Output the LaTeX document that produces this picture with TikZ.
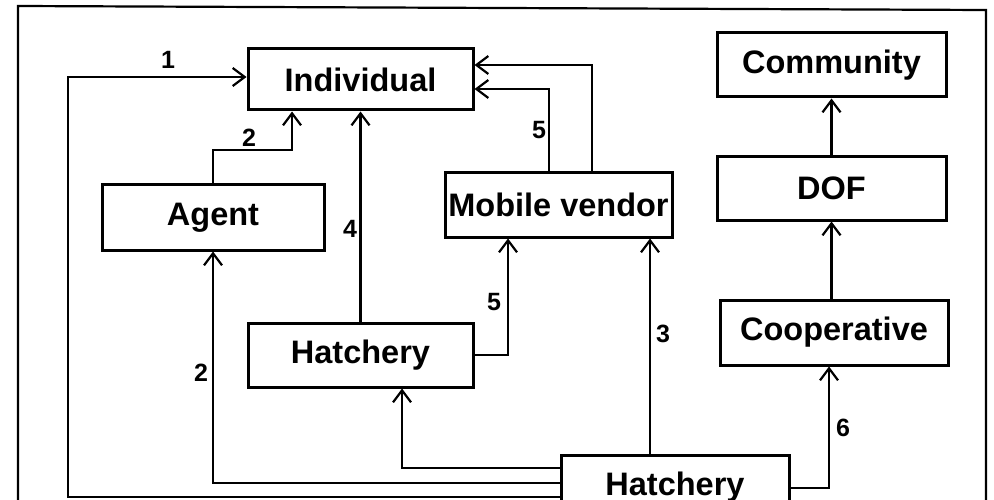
\documentclass[tikz,border=0pt]{standalone}
\usepackage{fontspec}
\setmainfont{Liberation Sans}
\usetikzlibrary{arrows.meta}
\begin{document}
\begin{tikzpicture}[x=1pt,y=-1pt,
  box/.style={draw, line width=3pt, inner sep=0pt, font=\bfseries\fontsize{32.5}{32.5}\selectfont},
  arr/.style={line width=2.2pt, -{Straight Barb[length=12pt,width=18pt,line width=2.2pt]}},
  lbl/.style={font=\bfseries\fontsize{25}{25}\selectfont, inner sep=0pt},
  frame/.style={line width=2.2pt}]
\clip (0,0) rectangle (994,500);
\fill[white] (0,0) rectangle (994,500);
% outer frame
\coordinate (f1) at (18,510);
\coordinate (f2) at (18,6);
\coordinate (f3) at (986,10);
\coordinate (f4) at (986,510);
\draw[frame] (f1) -- (f2) -- (f3) -- (f4);
% boxes
\node[box, minimum width=225pt, minimum height=61pt] (indiv) at (360.5,79.5) {Individual};
\node[box, minimum width=222pt, minimum height=65pt] (agent) at (213,217.5) {Agent};
\node[box, minimum width=227pt, minimum height=64pt] (mobile) at (558.5,205) {Mobile vendor};
\node[box, minimum width=229pt, minimum height=64pt] (comm) at (831.5,65) {Community};
\node[box, minimum width=229pt, minimum height=63pt] (dof) at (831.5,188.5) {DOF};
\node[box, minimum width=228pt, minimum height=65pt] (coop) at (834,332.5) {Cooperative};
\node[box, minimum width=225pt, minimum height=64pt] (hatchM) at (360.5,355) {Hatchery};
\node[box, minimum width=228pt, minimum height=64pt] (hatchB) at (675,487) {Hatchery};
% bend coordinates
\coordinate (l1) at (68,497);
\coordinate (a1) at (68,77);
\coordinate (l2) at (213,483);
\coordinate (l3) at (402,468);
\coordinate (l4) at (508,355);
\coordinate (l5) at (650,0);
\coordinate (l6) at (549,89);
\coordinate (l7) at (592,65);
\coordinate (l8) at (292,150);
\coordinate (l9) at (829,488);
% connectors
\draw[arr] (hatchB.west |- l1) -- (l1) -- (a1) -- (a1 -| indiv.west);
\draw[arr] (hatchB.west |- l2) -- (l2) -- (agent.south);
\draw[arr] (hatchB.west |- l3) -- (l3) -- (l3 |- hatchM.south);
\draw[arr] (hatchM.north) -- (indiv.south);
\draw[arr] (hatchM.east |- l4) -- (l4) -- (l4 |- mobile.south);
\draw[arr] (hatchB.north -| l5) -- (l5 |- mobile.south);
\draw[arr] (mobile.north -| l6) -- (l6) -- (l6 -| indiv.east);
\draw[arr] (mobile.north -| l7) -- (l7) -- (l7 -| indiv.east);
\draw[arr] (agent.north) |- (l8) -- (l8 |- indiv.south);
\draw[arr] (dof.north) -- (comm.south);
\draw[arr] (coop.north -| dof.north) -- (dof.south);
\draw[arr] (hatchB.east |- l9) -- (l9) -- (l9 |- coop.south);
% labels
\node[lbl] (n1) at (168,60) {1};
\node[lbl] (n2a) at (249,138) {2};
\node[lbl] (n2b) at (201,373) {2};
\node[lbl] (n4) at (350,229) {4};
\node[lbl] (n5a) at (539,130) {5};
\node[lbl] (n5b) at (494,302) {5};
\node[lbl] (n3) at (663,334) {3};
\node[lbl] (n6) at (843,428) {6};
\end{tikzpicture}
\end{document}
